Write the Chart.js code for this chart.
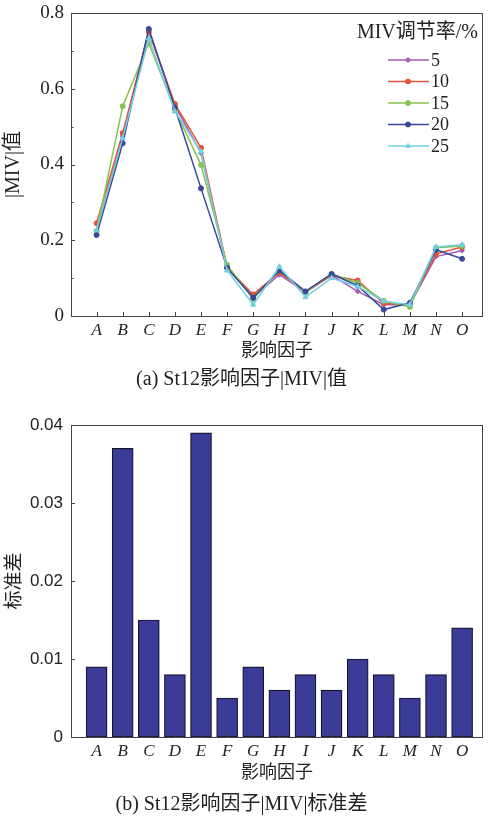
<!DOCTYPE html>
<html>
<head>
<meta charset="utf-8">
<script src="https://cdn.jsdelivr.net/npm/chart.js@4.4.0/dist/chart.umd.min.js"></script>
<style>
  html, body { margin: 0; padding: 0; background: #ffffff; }
  body { width: 488px; height: 817px; position: relative; overflow: hidden; }
  canvas { position: absolute; left: 0; }
  #c1 { top: 0; }
  #c2 { top: 395px; }
</style>
</head>
<body>
<canvas id="c1" width="488" height="395"></canvas>
<canvas id="c2" width="488" height="422"></canvas>
<script>
// ---------- data ----------
const categories = ['A','B','C','D','E','F','G','H','I','J','K','L','M','N','O'];
const seriesLabels = ['5','10','15','20','25'];
const miv5  = [0.225,0.475,0.755,0.555,0.430,0.127,0.050,0.109,0.063,0.107,0.065,0.030,0.030,0.157,0.173];
const miv10 = [0.245,0.483,0.750,0.560,0.444,0.127,0.057,0.115,0.063,0.107,0.094,0.033,0.030,0.164,0.182];
const miv15 = [0.225,0.554,0.720,0.545,0.399,0.135,0.045,0.120,0.063,0.111,0.087,0.040,0.024,0.180,0.185];
const miv20 = [0.214,0.456,0.758,0.550,0.337,0.127,0.048,0.120,0.065,0.111,0.080,0.017,0.035,0.175,0.151];
const miv25 = [0.226,0.470,0.733,0.540,0.434,0.120,0.030,0.130,0.050,0.100,0.078,0.039,0.030,0.182,0.188];
const stdDev = [0.009,0.037,0.015,0.008,0.039,0.005,0.009,0.006,0.008,0.006,0.010,0.008,0.005,0.008,0.014];
const yTicksTop = [0, 0.2, 0.4, 0.6, 0.8];
const yTicksBottom = [0, 0.01, 0.02, 0.03, 0.04];
const legendTitle = 'MIV调节率/%';
const titleTopY = '|MIV|值';
const titleBottomY = '标准差';
const titleX = '影响因子';
const captionTop = '(a) St12影响因子|MIV|值';
const captionBottom = '(b) St12影响因子|MIV|标准差';

// ---------- styles ----------
const SERIF = "'Liberation Serif', 'Noto Sans CJK SC', serif";
const SANS = "'Liberation Sans', Arial, sans-serif";
const TXT = '#222222';
const seriesColors = ['#a65ab8', '#e0553a', '#86c24e', '#3a4898', '#6fd0e2'];
const seriesPoints = ['rectRot', 'circle', 'circle', 'circle', 'triangle'];

const framePlugin = {
  id: 'frame',
  afterDatasetsDraw(chart, args, opts) {
    const {ctx, chartArea: a, scales: {x, y}} = chart;
    ctx.save();
    ctx.strokeStyle = '#444';
    ctx.lineWidth = 1;
    ctx.beginPath();
    x.ticks.forEach(t => {
      const px = Math.round(x.getPixelForValue(t.value)) + 0.5;
      ctx.moveTo(px, a.bottom); ctx.lineTo(px, a.bottom - 4);
    });
    const yt = y.ticks.map(t => t.value);
    yt.forEach((v, i) => {
      const py = Math.round(y.getPixelForValue(v)) + 0.5;
      ctx.moveTo(a.left, py); ctx.lineTo(a.left + 4, py);
      if (opts.minor && i < yt.length - 1) {
        const pm = Math.round(y.getPixelForValue((v + yt[i + 1]) / 2)) + 0.5;
        ctx.moveTo(a.left, pm); ctx.lineTo(a.left + 2.5, pm);
      }
    });
    ctx.stroke();
    ctx.strokeRect(Math.round(a.left) + 0.5, Math.round(a.top) + 0.5,
                   Math.round(a.right - a.left) - 1, Math.round(a.bottom - a.top));
    ctx.restore();
  }
};

const legendPlugin = {
  id: 'innerLegend',
  afterDraw(chart) {
    const {ctx, chartArea: a} = chart;
    ctx.save();
    ctx.font = '20px ' + SERIF;
    ctx.fillStyle = TXT;
    ctx.textAlign = 'right';
    ctx.textBaseline = 'middle';
    ctx.fillText(legendTitle, a.right - 5, a.top + 20);
    ctx.textAlign = 'left';
    ctx.font = '18px ' + SERIF;
    chart.data.datasets.forEach((ds, i) => {
      const yy = a.top + 47 + i * 21.5;
      ctx.strokeStyle = ds.borderColor;
      ctx.fillStyle = ds.borderColor;
      ctx.lineWidth = 1.5;
      ctx.beginPath();
      ctx.moveTo(a.right - 95, yy); ctx.lineTo(a.right - 54, yy);
      ctx.stroke();
      ctx.lineWidth = 1;
      Chart.helpers.drawPoint(ctx, {pointStyle: ds.pointStyle, radius: 2.5, borderWidth: 1, rotation: 0}, a.right - 75, yy);
      ctx.fillStyle = TXT;
      ctx.fillText(ds.label, a.right - 52, yy + 1);
    });
    ctx.restore();
  }
};

function xScale(heightPx, titlePadBottom) {
  return {
    type: 'linear',
    offset: false,
    min: -0.98, max: 14.8,
    afterBuildTicks: s => { s.ticks = categories.map((c, i) => ({value: i})); },
    afterFit: s => { s.height = heightPx; s.paddingLeft = 0; s.paddingRight = 0; },
    grid: {display: false, drawTicks: false, offset: false},
    border: {display: false},
    ticks: {
      callback: v => categories[v],
      font: {family: SERIF, size: 17, style: 'italic'},
      color: TXT,
      padding: 4,
      maxRotation: 0,
      autoSkip: false
    },
    title: {display: true, text: titleX, font: {family: SERIF, size: 18}, color: TXT,
            padding: {top: 0, bottom: titlePadBottom}}
  };
}

function yScale(max, ticksArr, title, titleSize, titlePad, tickFont, tickPad) {
  return {
    min: 0, max: max,
    afterBuildTicks: s => { s.ticks = ticksArr.map(v => ({value: v})); },
    afterFit: s => { s.width = 71; s.paddingTop = 0; s.paddingBottom = 0; },
    grid: {display: false, drawTicks: false},
    border: {display: false},
    ticks: {
      callback: v => String(v),
      font: tickFont,
      color: TXT,
      padding: tickPad
    },
    title: {display: true, text: title, font: {family: SERIF, size: titleSize}, color: TXT,
            padding: {top: titlePad, bottom: 0}}
  };
}

const mivSeries = [miv5, miv10, miv15, miv20, miv25];

new Chart(document.getElementById('c1'), {
  type: 'line',
  data: {
    datasets: mivSeries.map((arr, k) => ({
      label: seriesLabels[k],
      data: arr.map((v, i) => ({x: i, y: v})),
      borderColor: seriesColors[k],
      backgroundColor: seriesColors[k],
      pointStyle: seriesPoints[k],
      pointRadius: k === 4 ? 3 : 2.5,
      pointBorderWidth: 1,
      borderWidth: 1.5,
      tension: 0,
      order: 4 - k
    }))
  },
  options: {
    responsive: false,
    animation: false,
    devicePixelRatio: 1,
    layout: {padding: {left: 0, right: 5, top: 13, bottom: 0}},
    plugins: {
      legend: {display: false},
      tooltip: {enabled: false},
      title: {display: true, position: 'bottom', text: captionTop,
              font: {family: SERIF, size: 20, weight: 'normal'}, color: TXT,
              padding: {top: 6, bottom: 3}},
      frame: {minor: true}
    },
    scales: {
      x: xScale(46, 0),
      y: yScale(0.8, yTicksTop, titleTopY, 20, 2, {family: SERIF, size: 19}, 7)
    }
  },
  plugins: [framePlugin, legendPlugin]
});

new Chart(document.getElementById('c2'), {
  type: 'bar',
  data: {
    datasets: [{
      label: titleBottomY,
      data: stdDev.map((v, i) => ({x: i, y: v})),
      backgroundColor: '#3b3b98',
      borderColor: '#15152a',
      borderWidth: 1.2,
      borderSkipped: false,
      barThickness: 21
    }]
  },
  options: {
    responsive: false,
    animation: false,
    devicePixelRatio: 1,
    layout: {padding: {left: 0, right: 5, top: 30, bottom: 0}},
    plugins: {
      legend: {display: false},
      tooltip: {enabled: false},
      title: {display: true, position: 'bottom', text: captionBottom,
              font: {family: SERIF, size: 20, weight: 'normal'}, color: TXT,
              padding: {top: 9, bottom: 0}},
      frame: {minor: false}
    },
    scales: {
      x: xScale(47, 0),
      y: yScale(0.04, yTicksBottom, titleBottomY, 19, 4, {family: SANS, size: 17}, 8)
    }
  },
  plugins: [framePlugin]
});
</script>
</body>
</html>
